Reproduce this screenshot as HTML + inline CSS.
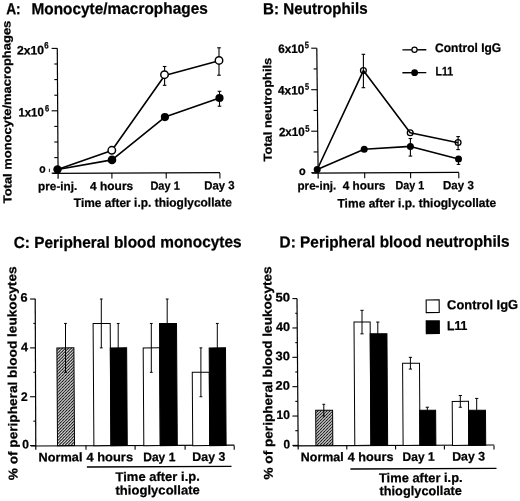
<!DOCTYPE html>
<html><head><meta charset="utf-8"><style>
html,body{margin:0;padding:0;background:#fff;}
svg{display:block;filter:blur(0.3px);}
text{font-family:"Liberation Sans",sans-serif;font-weight:bold;fill:#000;stroke:#000;stroke-width:0.25px;}
</style></head><body>
<svg width="520" height="501" viewBox="0 0 520 501">
<defs>
<pattern id="hatch" patternUnits="userSpaceOnUse" width="3" height="3">
<rect width="3" height="3" fill="#fff"/>
<path d="M0 3 L3 0 M-1 1 L1 -1 M2 4 L4 2" stroke="#000" stroke-width="1.05"/>
</pattern>
</defs>
<rect width="520" height="501" fill="#fff"/>
<g transform="matrix(1,-0.004,0.0065,1,-0.093,0.054)"><text x="6.20" y="14.30" font-size="16.0" textLength="14.50" lengthAdjust="spacingAndGlyphs">A:</text></g>
<g transform="matrix(1,-0.004,0.0065,1,-0.091,0.478)"><text x="31.40" y="14.00" font-size="16.0" textLength="176.41" lengthAdjust="spacingAndGlyphs">Monocyte/macrophages</text></g>
<g transform="matrix(1,-0.004,0.0065,1,-0.728,0.044)"><text transform="translate(11.00,203.30) rotate(-90)" x="-0.00" y="0" font-size="11.7" textLength="182.60" lengthAdjust="spacingAndGlyphs">Total monocyte/macrophages</text></g>
<line x1="57.28" y1="48.30" x2="58.12" y2="178.70" stroke="#000" stroke-width="1.2"/>
<line x1="52.50" y1="173.34" x2="220.00" y2="172.66" stroke="#000" stroke-width="1.2"/>
<line x1="51.60" y1="173.20" x2="58.09" y2="173.20" stroke="#000" stroke-width="1.1"/>
<line x1="54.30" y1="157.60" x2="57.99" y2="157.60" stroke="#000" stroke-width="1.1"/>
<line x1="54.30" y1="142.00" x2="57.89" y2="142.00" stroke="#000" stroke-width="1.1"/>
<line x1="54.30" y1="126.40" x2="57.79" y2="126.40" stroke="#000" stroke-width="1.1"/>
<line x1="51.60" y1="110.80" x2="57.69" y2="110.80" stroke="#000" stroke-width="1.1"/>
<line x1="54.30" y1="95.20" x2="57.58" y2="95.20" stroke="#000" stroke-width="1.1"/>
<line x1="54.30" y1="79.60" x2="57.48" y2="79.60" stroke="#000" stroke-width="1.1"/>
<line x1="54.30" y1="64.00" x2="57.38" y2="64.00" stroke="#000" stroke-width="1.1"/>
<line x1="51.60" y1="48.40" x2="57.28" y2="48.40" stroke="#000" stroke-width="1.1"/>
<line x1="111.90" y1="172.90" x2="111.93" y2="178.60" stroke="#000" stroke-width="1.1"/>
<line x1="166.20" y1="172.90" x2="166.23" y2="178.60" stroke="#000" stroke-width="1.1"/>
<line x1="219.90" y1="172.90" x2="219.93" y2="178.60" stroke="#000" stroke-width="1.1"/>
<g transform="matrix(1,-0.004,0.0065,1,-0.354,0.122)"><text x="16.90" y="54.40" font-size="12.2" textLength="27.20" lengthAdjust="spacingAndGlyphs">2x10</text></g>
<g transform="matrix(1,-0.004,0.0065,1,-0.315,0.186)"><text x="44.20" y="48.50" font-size="9.3" textLength="4.40" lengthAdjust="spacingAndGlyphs">6</text></g>
<g transform="matrix(1,-0.004,0.0065,1,-0.757,0.124)"><text x="18.40" y="116.40" font-size="12.2" textLength="25.40" lengthAdjust="spacingAndGlyphs">1x10</text></g>
<g transform="matrix(1,-0.004,0.0065,1,-0.725,0.188)"><text x="44.90" y="111.60" font-size="9.3" textLength="4.20" lengthAdjust="spacingAndGlyphs">6</text></g>
<g transform="matrix(1,-0.004,0.0065,1,-1.123,0.170)"><text x="39.30" y="172.80" font-size="12.0" textLength="6.40" lengthAdjust="spacingAndGlyphs">o</text></g>
<line x1="49.40" y1="168.70" x2="49.40" y2="172.10" stroke="#000" stroke-width="0.9"/>
<g transform="matrix(1,-0.004,0.0065,1,-1.236,0.231)"><text x="38.10" y="190.20" font-size="11.9" textLength="39.19" lengthAdjust="spacingAndGlyphs">pre-inj.</text></g>
<g transform="matrix(1,-0.004,0.0065,1,-1.236,0.446)"><text x="90.00" y="190.10" font-size="11.9" textLength="43.20" lengthAdjust="spacingAndGlyphs">4 hours</text></g>
<g transform="matrix(1,-0.004,0.0065,1,-1.233,0.661)"><text x="150.40" y="189.70" font-size="11.9" textLength="29.51" lengthAdjust="spacingAndGlyphs">Day 1</text></g>
<g transform="matrix(1,-0.004,0.0065,1,-1.231,0.878)"><text x="204.20" y="189.40" font-size="11.9" textLength="30.41" lengthAdjust="spacingAndGlyphs">Day 3</text></g>
<g transform="matrix(1,-0.004,0.0065,1,-1.344,0.611)"><text x="73.80" y="206.80" font-size="12.3" textLength="157.99" lengthAdjust="spacingAndGlyphs">Time after i.p. thioglycollate</text></g>
<polyline points="57.5,169.5 111.8,150.5 164.7,75.5 219,60.8" fill="none" stroke="#000" stroke-width="1.6" stroke-linejoin="round"/>
<polyline points="57.5,169.5 112,159.9 164.9,117.1 219.5,98" fill="none" stroke="#000" stroke-width="1.6" stroke-linejoin="round"/>
<line x1="164.60" y1="66.50" x2="164.60" y2="85.30" stroke="#000" stroke-width="1.1"/>
<line x1="162.80" y1="66.50" x2="166.40" y2="66.50" stroke="#000" stroke-width="1.1"/>
<line x1="162.80" y1="85.30" x2="166.40" y2="85.30" stroke="#000" stroke-width="1.1"/>
<line x1="219.00" y1="47.80" x2="219.00" y2="75.20" stroke="#000" stroke-width="1.1"/>
<line x1="217.20" y1="47.80" x2="220.80" y2="47.80" stroke="#000" stroke-width="1.1"/>
<line x1="217.20" y1="75.20" x2="220.80" y2="75.20" stroke="#000" stroke-width="1.1"/>
<line x1="219.50" y1="91.30" x2="219.50" y2="106.20" stroke="#000" stroke-width="1.1"/>
<line x1="217.70" y1="91.30" x2="221.30" y2="91.30" stroke="#000" stroke-width="1.1"/>
<line x1="217.70" y1="106.20" x2="221.30" y2="106.20" stroke="#000" stroke-width="1.1"/>
<circle cx="57.5" cy="169.5" r="4.2" fill="#000"/>
<circle cx="111.8" cy="150.3" r="3.75" fill="#fff" stroke="#000" stroke-width="1.45"/>
<circle cx="112" cy="159.9" r="4.3" fill="#000"/>
<circle cx="164.5" cy="74.7" r="3.75" fill="#fff" stroke="#000" stroke-width="1.45"/>
<circle cx="164.9" cy="117.1" r="4.1" fill="#000"/>
<circle cx="219" cy="60.4" r="3.75" fill="#fff" stroke="#000" stroke-width="1.45"/>
<circle cx="219.5" cy="98" r="4.1" fill="#000"/>
<g transform="matrix(1,-0.004,0.0065,1,-0.091,1.261)"><text x="263.10" y="14.00" font-size="16.0" textLength="104.50" lengthAdjust="spacingAndGlyphs">B: Neutrophils</text></g>
<g transform="matrix(1,-0.004,0.0065,1,-0.712,1.086)"><text transform="translate(271.50,161.50) rotate(-90)" x="-0.00" y="0" font-size="11.6" textLength="103.80" lengthAdjust="spacingAndGlyphs">Total neutrophils</text></g>
<line x1="316.80" y1="48.20" x2="318.20" y2="178.40" stroke="#000" stroke-width="1.2"/>
<line x1="312.00" y1="173.04" x2="458.90" y2="172.46" stroke="#000" stroke-width="1.2"/>
<line x1="311.20" y1="172.70" x2="318.14" y2="172.70" stroke="#000" stroke-width="1.1"/>
<line x1="313.60" y1="151.95" x2="317.92" y2="151.95" stroke="#000" stroke-width="1.1"/>
<line x1="311.20" y1="131.20" x2="317.69" y2="131.20" stroke="#000" stroke-width="1.1"/>
<line x1="313.60" y1="110.45" x2="317.47" y2="110.45" stroke="#000" stroke-width="1.1"/>
<line x1="311.20" y1="89.70" x2="317.25" y2="89.70" stroke="#000" stroke-width="1.1"/>
<line x1="313.60" y1="68.95" x2="317.02" y2="68.95" stroke="#000" stroke-width="1.1"/>
<line x1="311.20" y1="48.20" x2="316.80" y2="48.20" stroke="#000" stroke-width="1.1"/>
<line x1="364.70" y1="172.70" x2="364.70" y2="178.30" stroke="#000" stroke-width="1.1"/>
<line x1="410.60" y1="172.70" x2="410.60" y2="178.30" stroke="#000" stroke-width="1.1"/>
<line x1="458.80" y1="172.70" x2="458.80" y2="178.30" stroke="#000" stroke-width="1.1"/>
<g transform="matrix(1,-0.004,0.0065,1,-0.344,1.165)"><text x="278.30" y="53.00" font-size="12.2" textLength="26.10" lengthAdjust="spacingAndGlyphs">6x10</text></g>
<g transform="matrix(1,-0.004,0.0065,1,-0.314,1.228)"><text x="304.80" y="48.30" font-size="9.3" textLength="4.20" lengthAdjust="spacingAndGlyphs">5</text></g>
<g transform="matrix(1,-0.004,0.0065,1,-0.614,1.165)"><text x="278.00" y="94.50" font-size="12.2" textLength="26.50" lengthAdjust="spacingAndGlyphs">4x10</text></g>
<g transform="matrix(1,-0.004,0.0065,1,-0.584,1.228)"><text x="304.90" y="89.80" font-size="9.3" textLength="4.10" lengthAdjust="spacingAndGlyphs">5</text></g>
<g transform="matrix(1,-0.004,0.0065,1,-0.885,1.167)"><text x="278.90" y="136.10" font-size="12.2" textLength="25.90" lengthAdjust="spacingAndGlyphs">2x10</text></g>
<g transform="matrix(1,-0.004,0.0065,1,-0.856,1.230)"><text x="305.30" y="131.70" font-size="9.3" textLength="4.30" lengthAdjust="spacingAndGlyphs">5</text></g>
<g transform="matrix(1,-0.004,0.0065,1,-1.137,1.209)"><text x="299.00" y="174.90" font-size="12.0" textLength="6.70" lengthAdjust="spacingAndGlyphs">o</text></g>
<g transform="matrix(1,-0.004,0.0065,1,-1.233,1.268)"><text x="297.50" y="189.70" font-size="11.9" textLength="38.79" lengthAdjust="spacingAndGlyphs">pre-inj.</text></g>
<g transform="matrix(1,-0.004,0.0065,1,-1.232,1.456)"><text x="342.70" y="189.60" font-size="11.9" textLength="42.70" lengthAdjust="spacingAndGlyphs">4 hours</text></g>
<g transform="matrix(1,-0.004,0.0065,1,-1.230,1.639)"><text x="395.40" y="189.30" font-size="11.9" textLength="28.81" lengthAdjust="spacingAndGlyphs">Day 1</text></g>
<g transform="matrix(1,-0.004,0.0065,1,-1.230,1.834)"><text x="443.00" y="189.20" font-size="11.9" textLength="30.81" lengthAdjust="spacingAndGlyphs">Day 3</text></g>
<g transform="matrix(1,-0.004,0.0065,1,-1.347,1.667)"><text x="337.50" y="207.20" font-size="12.3" textLength="158.69" lengthAdjust="spacingAndGlyphs">Time after i.p. thioglycollate</text></g>
<polyline points="317.2,169.5 363.4,70.6 410.2,132.7 458.1,142.7" fill="none" stroke="#000" stroke-width="1.6" stroke-linejoin="round"/>
<polyline points="317.2,169.5 364.2,149.3 410.4,146.4 458.5,159" fill="none" stroke="#000" stroke-width="1.6" stroke-linejoin="round"/>
<line x1="363.40" y1="54.30" x2="363.40" y2="87.70" stroke="#000" stroke-width="1.1"/>
<line x1="361.60" y1="54.30" x2="365.20" y2="54.30" stroke="#000" stroke-width="1.1"/>
<line x1="361.60" y1="87.70" x2="365.20" y2="87.70" stroke="#000" stroke-width="1.1"/>
<line x1="410.40" y1="138.50" x2="410.40" y2="156.10" stroke="#000" stroke-width="1.1"/>
<line x1="408.60" y1="138.50" x2="412.20" y2="138.50" stroke="#000" stroke-width="1.1"/>
<line x1="408.60" y1="156.10" x2="412.20" y2="156.10" stroke="#000" stroke-width="1.1"/>
<line x1="458.10" y1="136.60" x2="458.10" y2="149.60" stroke="#000" stroke-width="1.1"/>
<line x1="456.30" y1="136.60" x2="459.90" y2="136.60" stroke="#000" stroke-width="1.1"/>
<line x1="456.30" y1="149.60" x2="459.90" y2="149.60" stroke="#000" stroke-width="1.1"/>
<line x1="458.50" y1="157.00" x2="458.50" y2="164.40" stroke="#000" stroke-width="1.1"/>
<line x1="456.70" y1="157.00" x2="460.30" y2="157.00" stroke="#000" stroke-width="1.1"/>
<line x1="456.70" y1="164.40" x2="460.30" y2="164.40" stroke="#000" stroke-width="1.1"/>
<circle cx="317.2" cy="169.5" r="3.5" fill="#000"/>
<circle cx="363.4" cy="70.6" r="2.9" fill="none" stroke="#000" stroke-width="1.3"/>
<circle cx="364.2" cy="149.3" r="3.5" fill="#000"/>
<circle cx="410.2" cy="132.7" r="2.9" fill="none" stroke="#000" stroke-width="1.3"/>
<circle cx="410.4" cy="146.4" r="3.5" fill="#000"/>
<circle cx="458.1" cy="142.5" r="2.9" fill="none" stroke="#000" stroke-width="1.3"/>
<circle cx="458.5" cy="159" r="3.5" fill="#000"/>
<line x1="402.40" y1="49.85" x2="426.30" y2="49.75" stroke="#000" stroke-width="1.3"/>
<circle cx="414.5" cy="49.8" r="2.6" fill="#fff" stroke="#000" stroke-width="1.2"/>
<line x1="402.40" y1="72.75" x2="426.30" y2="72.65" stroke="#000" stroke-width="1.3"/>
<circle cx="414.6" cy="72.7" r="3.4" fill="#000"/>
<g transform="matrix(1,-0.004,0.0065,1,-0.338,1.873)"><text x="435.10" y="52.00" font-size="12.5" textLength="66.10" lengthAdjust="spacingAndGlyphs">Control IgG</text></g>
<g transform="matrix(1,-0.004,0.0065,1,-0.490,1.777)"><text x="435.50" y="75.40" font-size="12.5" textLength="17.60" lengthAdjust="spacingAndGlyphs">L11</text></g>
<g transform="matrix(1,-0.004,0.0065,1,-1.609,0.511)"><text x="13.70" y="247.60" font-size="16.0" textLength="227.91" lengthAdjust="spacingAndGlyphs">C: Peripheral blood monocytes</text></g>
<g transform="matrix(1,-0.004,0.0065,1,-2.427,0.067)"><text transform="translate(16.80,480.30) rotate(-90)" x="-0.00" y="0" font-size="12.7" textLength="213.90" lengthAdjust="spacingAndGlyphs">% of peripheral blood leukocytes</text></g>
<line x1="35.20" y1="298.80" x2="35.80" y2="449.80" stroke="#000" stroke-width="1.2"/>
<line x1="31.00" y1="446.01" x2="234.30" y2="445.19" stroke="#000" stroke-width="1.2"/>
<line x1="30.10" y1="445.60" x2="35.79" y2="445.60" stroke="#000" stroke-width="1.1"/>
<line x1="33.40" y1="421.17" x2="35.69" y2="421.17" stroke="#000" stroke-width="1.1"/>
<line x1="30.10" y1="396.74" x2="35.59" y2="396.74" stroke="#000" stroke-width="1.1"/>
<line x1="33.40" y1="372.31" x2="35.49" y2="372.31" stroke="#000" stroke-width="1.1"/>
<line x1="30.10" y1="347.88" x2="35.40" y2="347.88" stroke="#000" stroke-width="1.1"/>
<line x1="33.40" y1="323.45" x2="35.30" y2="323.45" stroke="#000" stroke-width="1.1"/>
<line x1="30.10" y1="299.02" x2="35.20" y2="299.02" stroke="#000" stroke-width="1.1"/>
<line x1="86.00" y1="445.60" x2="86.00" y2="449.80" stroke="#000" stroke-width="1.1"/>
<line x1="135.10" y1="445.60" x2="135.10" y2="449.80" stroke="#000" stroke-width="1.1"/>
<line x1="185.10" y1="445.60" x2="185.10" y2="449.80" stroke="#000" stroke-width="1.1"/>
<line x1="234.20" y1="445.60" x2="234.20" y2="449.80" stroke="#000" stroke-width="1.1"/>
<g transform="matrix(1,-0.004,0.0065,1,-1.962,0.096)"><text x="20.40" y="301.80" font-size="12.4" textLength="7.10" lengthAdjust="spacingAndGlyphs">6</text></g>
<g transform="matrix(1,-0.004,0.0065,1,-2.283,0.099)"><text x="21.10" y="351.20" font-size="12.4" textLength="7.10" lengthAdjust="spacingAndGlyphs">4</text></g>
<g transform="matrix(1,-0.004,0.0065,1,-2.606,0.098)"><text x="21.10" y="400.90" font-size="12.4" textLength="6.70" lengthAdjust="spacingAndGlyphs">2</text></g>
<g transform="matrix(1,-0.004,0.0065,1,-2.916,0.102)"><text x="22.20" y="448.60" font-size="12.4" textLength="6.70" lengthAdjust="spacingAndGlyphs">0</text></g>
<g transform="matrix(1,-0.004,0.0065,1,-2.579,0.263)"><rect x="57.20" y="347.88" width="17.00" height="97.72" fill="url(#hatch)" stroke="#000" stroke-width="1.0"/></g>
<line x1="65.50" y1="323.45" x2="65.50" y2="372.31" stroke="#000" stroke-width="1.0"/>
<line x1="64.10" y1="323.45" x2="66.90" y2="323.45" stroke="#000" stroke-width="1.0"/>
<line x1="64.10" y1="372.31" x2="66.90" y2="372.31" stroke="#000" stroke-width="1.0"/>
<g transform="matrix(1,-0.004,0.0065,1,-2.499,0.408)"><rect x="93.50" y="323.45" width="17.10" height="122.15" fill="#fff" stroke="#000" stroke-width="1.0"/></g>
<g transform="matrix(1,-0.004,0.0065,1,-2.579,0.475)"><rect x="110.60" y="347.88" width="16.35" height="97.72" fill="#000" stroke="#000" stroke-width="1.0"/></g>
<line x1="101.30" y1="299.02" x2="101.30" y2="347.88" stroke="#000" stroke-width="1.0"/>
<line x1="99.90" y1="299.02" x2="102.70" y2="299.02" stroke="#000" stroke-width="1.0"/>
<line x1="99.90" y1="347.88" x2="102.70" y2="347.88" stroke="#000" stroke-width="1.0"/>
<line x1="118.20" y1="323.45" x2="118.20" y2="372.31" stroke="#000" stroke-width="1.0"/>
<line x1="116.80" y1="323.45" x2="119.60" y2="323.45" stroke="#000" stroke-width="1.0"/>
<line x1="116.80" y1="372.31" x2="119.60" y2="372.31" stroke="#000" stroke-width="1.0"/>
<g transform="matrix(1,-0.004,0.0065,1,-2.579,0.607)"><rect x="143.50" y="347.88" width="16.40" height="97.72" fill="#fff" stroke="#000" stroke-width="1.0"/></g>
<g transform="matrix(1,-0.004,0.0065,1,-2.499,0.674)"><rect x="159.90" y="323.45" width="17.00" height="122.15" fill="#000" stroke="#000" stroke-width="1.0"/></g>
<line x1="151.30" y1="323.45" x2="151.30" y2="372.31" stroke="#000" stroke-width="1.0"/>
<line x1="149.90" y1="323.45" x2="152.70" y2="323.45" stroke="#000" stroke-width="1.0"/>
<line x1="149.90" y1="372.31" x2="152.70" y2="372.31" stroke="#000" stroke-width="1.0"/>
<line x1="167.20" y1="299.02" x2="167.20" y2="347.88" stroke="#000" stroke-width="1.0"/>
<line x1="165.80" y1="299.02" x2="168.60" y2="299.02" stroke="#000" stroke-width="1.0"/>
<line x1="165.80" y1="347.88" x2="168.60" y2="347.88" stroke="#000" stroke-width="1.0"/>
<g transform="matrix(1,-0.004,0.0065,1,-2.658,0.804)"><rect x="192.50" y="372.31" width="17.00" height="73.29" fill="#fff" stroke="#000" stroke-width="1.0"/></g>
<g transform="matrix(1,-0.004,0.0065,1,-2.579,0.871)"><rect x="209.50" y="347.88" width="16.30" height="97.72" fill="#000" stroke="#000" stroke-width="1.0"/></g>
<line x1="200.90" y1="347.88" x2="200.90" y2="396.74" stroke="#000" stroke-width="1.0"/>
<line x1="199.50" y1="347.88" x2="202.30" y2="347.88" stroke="#000" stroke-width="1.0"/>
<line x1="199.50" y1="396.74" x2="202.30" y2="396.74" stroke="#000" stroke-width="1.0"/>
<line x1="217.30" y1="323.45" x2="217.30" y2="372.31" stroke="#000" stroke-width="1.0"/>
<line x1="215.90" y1="323.45" x2="218.70" y2="323.45" stroke="#000" stroke-width="1.0"/>
<line x1="215.90" y1="372.31" x2="218.70" y2="372.31" stroke="#000" stroke-width="1.0"/>
<g transform="matrix(1,-0.004,0.0065,1,-2.999,0.242)"><text x="38.60" y="461.40" font-size="12.4" textLength="43.90" lengthAdjust="spacingAndGlyphs">Normal</text></g>
<g transform="matrix(1,-0.004,0.0065,1,-2.998,0.439)"><text x="86.40" y="461.30" font-size="12.4" textLength="46.70" lengthAdjust="spacingAndGlyphs">4 hours</text></g>
<g transform="matrix(1,-0.004,0.0065,1,-2.998,0.637)"><text x="143.20" y="461.20" font-size="12.4" textLength="32.21" lengthAdjust="spacingAndGlyphs">Day 1</text></g>
<g transform="matrix(1,-0.004,0.0065,1,-2.996,0.835)"><text x="192.30" y="460.90" font-size="12.4" textLength="33.11" lengthAdjust="spacingAndGlyphs">Day 3</text></g>
<line x1="86.90" y1="466.99" x2="231.50" y2="466.41" stroke="#000" stroke-width="1.3"/>
<g transform="matrix(1,-0.004,0.0065,1,-3.127,0.631)"><text x="115.50" y="481.00" font-size="12.8" textLength="84.31" lengthAdjust="spacingAndGlyphs">Time after i.p.</text></g>
<g transform="matrix(1,-0.004,0.0065,1,-3.214,0.631)"><text x="115.50" y="494.50" font-size="12.8" textLength="84.30" lengthAdjust="spacingAndGlyphs">thioglycollate</text></g>
<g transform="matrix(1,-0.004,0.0065,1,-1.606,1.578)"><text x="279.60" y="247.15" font-size="16.0" textLength="230.01" lengthAdjust="spacingAndGlyphs">D: Peripheral blood neutrophils</text></g>
<g transform="matrix(1,-0.004,0.0065,1,-2.424,1.088)"><text transform="translate(272.00,479.50) rotate(-90)" x="-0.00" y="0" font-size="12.7" textLength="213.10" lengthAdjust="spacingAndGlyphs">% of peripheral blood leukocytes</text></g>
<line x1="297.00" y1="298.60" x2="298.20" y2="449.60" stroke="#000" stroke-width="1.2"/>
<line x1="293.00" y1="445.80" x2="494.20" y2="445.00" stroke="#000" stroke-width="1.2"/>
<line x1="292.40" y1="445.40" x2="298.17" y2="445.40" stroke="#000" stroke-width="1.1"/>
<line x1="295.30" y1="430.72" x2="298.05" y2="430.72" stroke="#000" stroke-width="1.1"/>
<line x1="292.40" y1="416.04" x2="297.93" y2="416.04" stroke="#000" stroke-width="1.1"/>
<line x1="295.30" y1="401.36" x2="297.82" y2="401.36" stroke="#000" stroke-width="1.1"/>
<line x1="292.40" y1="386.68" x2="297.70" y2="386.68" stroke="#000" stroke-width="1.1"/>
<line x1="295.30" y1="372.00" x2="297.58" y2="372.00" stroke="#000" stroke-width="1.1"/>
<line x1="292.40" y1="357.32" x2="297.47" y2="357.32" stroke="#000" stroke-width="1.1"/>
<line x1="295.30" y1="342.64" x2="297.35" y2="342.64" stroke="#000" stroke-width="1.1"/>
<line x1="292.40" y1="327.96" x2="297.23" y2="327.96" stroke="#000" stroke-width="1.1"/>
<line x1="295.30" y1="313.28" x2="297.12" y2="313.28" stroke="#000" stroke-width="1.1"/>
<line x1="292.40" y1="298.60" x2="297.00" y2="298.60" stroke="#000" stroke-width="1.1"/>
<line x1="346.80" y1="445.40" x2="346.80" y2="449.60" stroke="#000" stroke-width="1.1"/>
<line x1="395.60" y1="445.40" x2="395.60" y2="449.60" stroke="#000" stroke-width="1.1"/>
<line x1="444.40" y1="445.40" x2="444.40" y2="449.60" stroke="#000" stroke-width="1.1"/>
<line x1="494.00" y1="445.40" x2="494.00" y2="449.60" stroke="#000" stroke-width="1.1"/>
<g transform="matrix(1,-0.004,0.0065,1,-1.960,1.131)"><text x="275.50" y="301.60" font-size="12.4" textLength="14.60" lengthAdjust="spacingAndGlyphs">50</text></g>
<g transform="matrix(1,-0.004,0.0065,1,-2.151,1.132)"><text x="276.00" y="330.96" font-size="12.4" textLength="14.10" lengthAdjust="spacingAndGlyphs">40</text></g>
<g transform="matrix(1,-0.004,0.0065,1,-2.342,1.131)"><text x="275.50" y="360.32" font-size="12.4" textLength="14.40" lengthAdjust="spacingAndGlyphs">30</text></g>
<g transform="matrix(1,-0.004,0.0065,1,-2.533,1.131)"><text x="275.60" y="389.68" font-size="12.4" textLength="14.30" lengthAdjust="spacingAndGlyphs">20</text></g>
<g transform="matrix(1,-0.004,0.0065,1,-2.724,1.133)"><text x="276.60" y="419.04" font-size="12.4" textLength="13.40" lengthAdjust="spacingAndGlyphs">10</text></g>
<g transform="matrix(1,-0.004,0.0065,1,-2.915,1.147)"><text x="283.40" y="448.40" font-size="12.4" textLength="6.60" lengthAdjust="spacingAndGlyphs">0</text></g>
<g transform="matrix(1,-0.004,0.0065,1,-2.781,1.297)"><rect x="315.80" y="410.17" width="16.90" height="35.23" fill="url(#hatch)" stroke="#000" stroke-width="1.0"/></g>
<line x1="323.80" y1="404.30" x2="323.80" y2="416.04" stroke="#000" stroke-width="1.0"/>
<line x1="322.40" y1="404.30" x2="325.20" y2="404.30" stroke="#000" stroke-width="1.0"/>
<line x1="322.40" y1="416.04" x2="325.20" y2="416.04" stroke="#000" stroke-width="1.0"/>
<g transform="matrix(1,-0.004,0.0065,1,-2.494,1.450)"><rect x="354.40" y="322.09" width="16.15" height="123.31" fill="#fff" stroke="#000" stroke-width="1.0"/></g>
<g transform="matrix(1,-0.004,0.0065,1,-2.533,1.516)"><rect x="370.55" y="333.83" width="16.75" height="111.57" fill="#000" stroke="#000" stroke-width="1.0"/></g>
<line x1="362.00" y1="310.34" x2="362.00" y2="333.83" stroke="#000" stroke-width="1.0"/>
<line x1="360.40" y1="310.34" x2="363.60" y2="310.34" stroke="#000" stroke-width="1.0"/>
<line x1="360.40" y1="333.83" x2="363.60" y2="333.83" stroke="#000" stroke-width="1.0"/>
<line x1="377.80" y1="322.09" x2="377.80" y2="345.58" stroke="#000" stroke-width="1.0"/>
<line x1="376.20" y1="322.09" x2="379.40" y2="322.09" stroke="#000" stroke-width="1.0"/>
<line x1="376.20" y1="345.58" x2="379.40" y2="345.58" stroke="#000" stroke-width="1.0"/>
<g transform="matrix(1,-0.004,0.0065,1,-2.628,1.645)"><rect x="402.85" y="363.19" width="16.90" height="82.21" fill="#fff" stroke="#000" stroke-width="1.0"/></g>
<g transform="matrix(1,-0.004,0.0065,1,-2.781,1.711)"><rect x="419.75" y="410.17" width="16.00" height="35.23" fill="#000" stroke="#000" stroke-width="1.0"/></g>
<line x1="410.40" y1="357.32" x2="410.40" y2="369.06" stroke="#000" stroke-width="1.0"/>
<line x1="408.80" y1="357.32" x2="412.00" y2="357.32" stroke="#000" stroke-width="1.0"/>
<line x1="408.80" y1="369.06" x2="412.00" y2="369.06" stroke="#000" stroke-width="1.0"/>
<line x1="427.30" y1="407.23" x2="427.30" y2="413.10" stroke="#000" stroke-width="1.0"/>
<line x1="425.70" y1="407.23" x2="428.90" y2="407.23" stroke="#000" stroke-width="1.0"/>
<line x1="425.70" y1="413.10" x2="428.90" y2="413.10" stroke="#000" stroke-width="1.0"/>
<g transform="matrix(1,-0.004,0.0065,1,-2.752,1.842)"><rect x="452.35" y="401.36" width="16.30" height="44.04" fill="#fff" stroke="#000" stroke-width="1.0"/></g>
<g transform="matrix(1,-0.004,0.0065,1,-2.781,1.909)"><rect x="468.65" y="410.17" width="16.95" height="35.23" fill="#000" stroke="#000" stroke-width="1.0"/></g>
<line x1="460.30" y1="395.49" x2="460.30" y2="407.23" stroke="#000" stroke-width="1.0"/>
<line x1="458.70" y1="395.49" x2="461.90" y2="395.49" stroke="#000" stroke-width="1.0"/>
<line x1="458.70" y1="407.23" x2="461.90" y2="407.23" stroke="#000" stroke-width="1.0"/>
<line x1="476.70" y1="398.42" x2="476.70" y2="421.91" stroke="#000" stroke-width="1.0"/>
<line x1="475.10" y1="398.42" x2="478.30" y2="398.42" stroke="#000" stroke-width="1.0"/>
<line x1="475.10" y1="421.91" x2="478.30" y2="421.91" stroke="#000" stroke-width="1.0"/>
<g transform="matrix(1,-0.004,0.0065,1,-2.998,1.289)"><text x="300.80" y="461.20" font-size="12.4" textLength="43.00" lengthAdjust="spacingAndGlyphs">Normal</text></g>
<g transform="matrix(1,-0.004,0.0065,1,-2.997,1.482)"><text x="347.70" y="461.10" font-size="12.4" textLength="45.80" lengthAdjust="spacingAndGlyphs">4 hours</text></g>
<g transform="matrix(1,-0.004,0.0065,1,-2.996,1.674)"><text x="402.60" y="460.90" font-size="12.4" textLength="32.01" lengthAdjust="spacingAndGlyphs">Day 1</text></g>
<g transform="matrix(1,-0.004,0.0065,1,-2.994,1.875)"><text x="452.20" y="460.60" font-size="12.4" textLength="32.91" lengthAdjust="spacingAndGlyphs">Day 3</text></g>
<line x1="350.40" y1="468.99" x2="496.50" y2="468.41" stroke="#000" stroke-width="1.3"/>
<g transform="matrix(1,-0.004,0.0065,1,-3.134,1.683)"><text x="378.90" y="482.20" font-size="12.8" textLength="83.81" lengthAdjust="spacingAndGlyphs">Time after i.p.</text></g>
<g transform="matrix(1,-0.004,0.0065,1,-3.219,1.683)"><text x="379.50" y="495.20" font-size="12.8" textLength="82.40" lengthAdjust="spacingAndGlyphs">thioglycollate</text></g>
<g transform="matrix(1,-0.004,0.0065,1,-1.991,1.731)"><rect x="426.20" y="299.90" width="13.00" height="12.70" fill="#fff" stroke="#000" stroke-width="1.1"/></g>
<g transform="matrix(1,-0.004,0.0065,1,-2.127,1.731)"><rect x="425.70" y="320.30" width="14.20" height="13.80" fill="#000" stroke="#000" stroke-width="0"/></g>
<g transform="matrix(1,-0.004,0.0065,1,-2.010,1.930)"><text x="447.10" y="309.20" font-size="13.0" textLength="71.00" lengthAdjust="spacingAndGlyphs">Control IgG</text></g>
<g transform="matrix(1,-0.004,0.0065,1,-2.146,1.829)"><text x="446.90" y="330.10" font-size="13.0" textLength="20.50" lengthAdjust="spacingAndGlyphs">L11</text></g>
</svg>
</body></html>
